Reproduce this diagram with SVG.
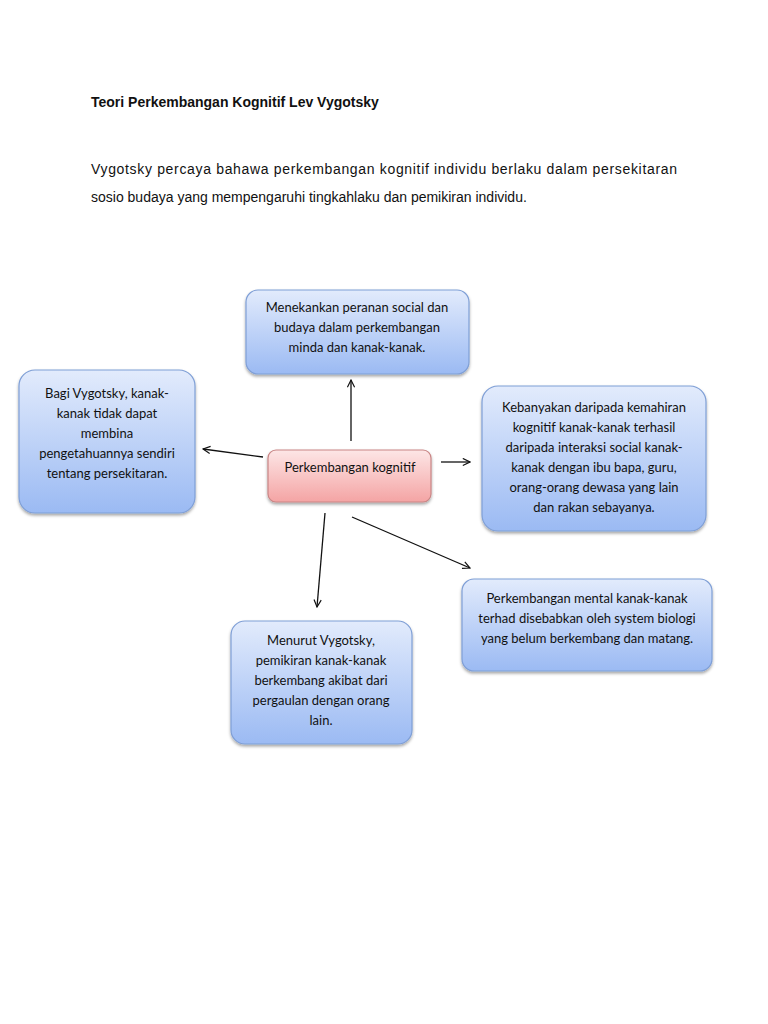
<svg xmlns="http://www.w3.org/2000/svg" width="768" height="1024" viewBox="0 0 768 1024">
<style>
.t{font-family:"Liberation Sans",Arial,sans-serif;font-size:14px;fill:#111}
.n{font-family:Lato,"Noto Sans",sans-serif;font-size:13px;fill:#111;text-anchor:middle}
.b{fill:url(#gb);stroke:#7f9fd6;stroke-width:1.2}
.r{fill:url(#gr);stroke:#c98585;stroke-width:1.2}
.c{stroke:#111;stroke-width:1.3;fill:none;marker-end:url(#a)}
</style>
<defs>
<linearGradient id="gb" x1="0" y1="0" x2="0" y2="1"><stop offset="0" stop-color="#e2ebfc"/><stop offset="1" stop-color="#9bbaf3"/></linearGradient>
<linearGradient id="gr" x1="0" y1="0" x2="0" y2="1"><stop offset="0" stop-color="#fde6e6"/><stop offset="1" stop-color="#f4a4a4"/></linearGradient>
<filter id="s" x="-10%" y="-10%" width="120%" height="130%"><feDropShadow dx="0" dy="2" stdDeviation="1.5" flood-color="#000" flood-opacity="0.35"/></filter>
<marker id="a" viewBox="0 0 10 10" refX="9" refY="5" markerWidth="9" markerHeight="9" orient="auto" markerUnits="userSpaceOnUse"><path d="M1,1 L9,5 L1,9" fill="none" stroke="#111" stroke-width="1.3"/></marker>
</defs>
<text class="t" x="91" y="107" font-weight="bold">Teori Perkembangan Kognitif Lev Vygotsky</text>
<text class="t" x="91" y="174" textLength="586" lengthAdjust="spacing">Vygotsky percaya bahawa perkembangan kognitif individu berlaku dalam persekitaran</text>
<text class="t" x="91" y="202">sosio budaya yang mempengaruhi tingkahlaku dan pemikiran individu.</text>
<g id="connectors">
<line class="c" x1="351" y1="441" x2="351" y2="380"/>
<line class="c" x1="263" y1="457" x2="203" y2="449"/>
<line class="c" x1="441" y1="462" x2="470" y2="462"/>
<line class="c" x1="352" y1="517" x2="470" y2="568"/>
<line class="c" x1="325" y1="513" x2="317" y2="607"/>
</g>
<g id="center" filter="url(#s)"><rect class="r" x="268" y="450" width="163" height="52" rx="8"/></g>
<text class="n" x="350" y="472">Perkembangan kognitif</text>
<g id="top"><rect class="b" x="246" y="290" width="223" height="84" rx="12" filter="url(#s)"/>
<text class="n" x="357" y="312">Menekankan peranan social dan</text>
<text class="n" x="357" y="332">budaya dalam perkembangan</text>
<text class="n" x="357" y="352">minda dan kanak-kanak.</text></g>
<g id="left"><rect class="b" x="19" y="370" width="176" height="143" rx="16" filter="url(#s)"/>
<text class="n" x="107" y="398">Bagi Vygotsky, kanak-</text>
<text class="n" x="107" y="418">kanak tidak dapat</text>
<text class="n" x="107" y="438">membina</text>
<text class="n" x="107" y="458">pengetahuannya sendiri</text>
<text class="n" x="107" y="478">tentang persekitaran.</text></g>
<g id="right"><rect class="b" x="482" y="386" width="224" height="145" rx="16" filter="url(#s)"/>
<text class="n" x="594" y="412">Kebanyakan daripada kemahiran</text>
<text class="n" x="594" y="432">kognitif kanak-kanak terhasil</text>
<text class="n" x="594" y="452">daripada interaksi social kanak-</text>
<text class="n" x="594" y="472">kanak dengan ibu bapa, guru,</text>
<text class="n" x="594" y="492">orang-orang dewasa yang lain</text>
<text class="n" x="594" y="512">dan rakan sebayanya.</text></g>
<g id="lowright"><rect class="b" x="462" y="579" width="250" height="92" rx="12" filter="url(#s)"/>
<text class="n" x="587" y="603">Perkembangan mental kanak-kanak</text>
<text class="n" x="587" y="623">terhad disebabkan oleh system biologi</text>
<text class="n" x="587" y="643">yang belum berkembang dan matang.</text></g>
<g id="bottom"><rect class="b" x="231" y="621" width="181" height="123" rx="14" filter="url(#s)"/>
<text class="n" x="321" y="645">Menurut Vygotsky,</text>
<text class="n" x="321" y="665">pemikiran kanak-kanak</text>
<text class="n" x="321" y="685">berkembang akibat dari</text>
<text class="n" x="321" y="705">pergaulan dengan orang</text>
<text class="n" x="321" y="725">lain.</text></g>
</svg>
